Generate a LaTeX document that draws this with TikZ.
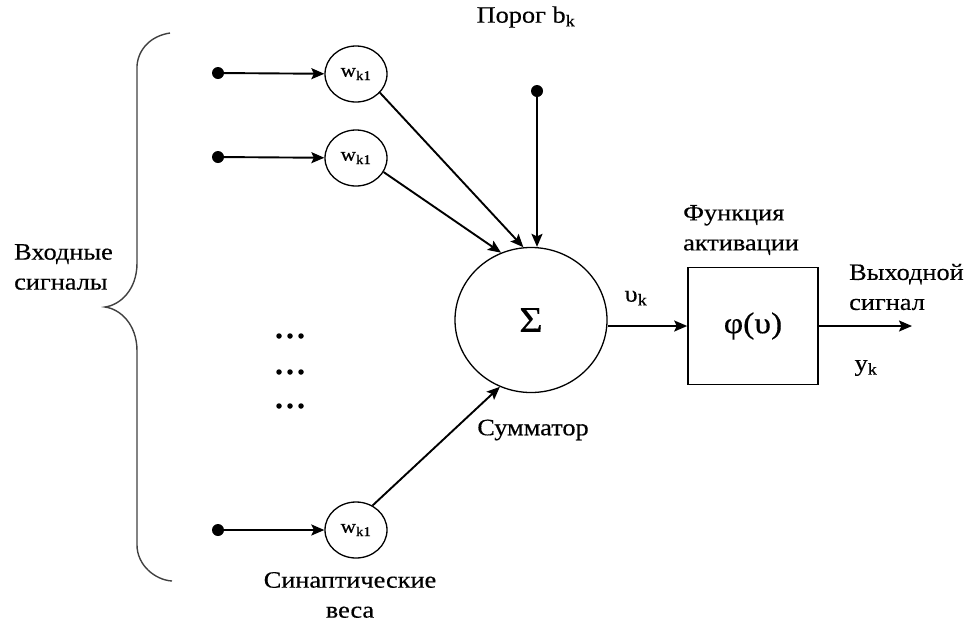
\documentclass[tikz,border=0pt]{standalone}
\usepackage{fontspec}
\setmainfont[FakeStretch=1.12,FakeBold=0.4]{Liberation Serif}
\usetikzlibrary{shapes.geometric,arrows.meta}
\begin{document}
\begin{tikzpicture}[x=1pt,y=-1pt,
  lbl/.style={inner sep=0pt,font=\fontsize{23.5}{30}\selectfont},
  wnode/.style={ellipse,draw,line width=1.3pt,minimum width=62pt,minimum height=56pt,inner sep=0pt,font=\fontsize{19}{22}\selectfont},
  dotnode/.style={circle,fill=black,minimum size=12pt,inner sep=0pt},
  arr/.style={line width=1.9pt,-{Stealth[length=13pt,width=11pt,inset=2.5pt]}},
  smalldot/.style={circle,fill=black,minimum size=5.5pt,inner sep=0pt}
]
\useasboundingbox (0,0) rectangle (976,622);
% brace
\draw[line width=1.4pt,black!75] (170,33) .. controls (150,36) and (138,50) .. (137,66) -- (137,263)
  .. controls (137,290) and (120,305) .. (105,307)
  .. controls (120,309) and (137,324) .. (137,351) -- (137,545)
  .. controls (137,565) and (155,580) .. (172,581);
% inputs
\node[dotnode] (in1) at (218,73) {};
\node[dotnode] (in2) at (218,157) {};
\node[dotnode] (in3) at (218,530) {};
\node[wnode] (w1) at (356,74) {w\textsubscript{k1}};
\node[wnode] (w2) at (356,158) {w\textsubscript{k1}};
\node[wnode] (w3) at (356,530) {w\textsubscript{k1}};
\draw[arr] (in1) -- (w1);
\draw[arr] (in2) -- (w2);
\draw[arr] (in3) -- (w3);
% dots
\foreach \yy [count=\i] in {336,372,406}{
  \foreach \xx [count=\j] in {279,290,301}{
    \node[smalldot] (d\i\j) at (\xx,\yy) {};
  }
}
% summator
\node[ellipse,draw,line width=1.3pt,minimum width=152pt,minimum height=145pt,inner sep=0pt,
  font=\fontsize{36}{40}\selectfont] (sum) at (531,320) {Σ};
\node[dotnode] (bias) at (537,91) {};
\draw[arr] (w1.-38) -- (sum.96);
\draw[arr] (w2.-27) -- (sum.114);
\draw[arr] (w3.56) -- (sum.245);
\draw[arr] (bias) -- (bias |- sum.north);
% activation
\node[draw,line width=1.6pt,minimum width=130pt,minimum height=117pt,inner sep=0pt,
  font=\fontsize{30}{34}\selectfont] (phi) at (753,326) {φ(υ)};
\coordinate (out) at (912,326);
\draw[arr] (phi.west -| sum.east) -- (phi.west);
\draw[arr] (phi.east) -- (out);
% labels
\node[lbl] (porog) at (526,17) {Порог b\textsubscript{k}};
\node[lbl,anchor=west,align=left] (vh) at (14,267) {Входные\\сигналы};
\node[lbl,anchor=west,align=left] (fa) at (683,230) {Функция\\активации};
\node[lbl,anchor=west,align=left] (vyh) at (849,287) {Выходной\\сигнал};
\node[lbl] (vk) at (636,298) {υ\textsubscript{k}};
\node[lbl] (yk) at (866,368) {y\textsubscript{k}};
\node[lbl] (summ) at (533,430) {Сумматор};
\node[lbl,align=center] (syn) at (350,595) {Синаптические\\веса};
\end{tikzpicture}
\end{document}
